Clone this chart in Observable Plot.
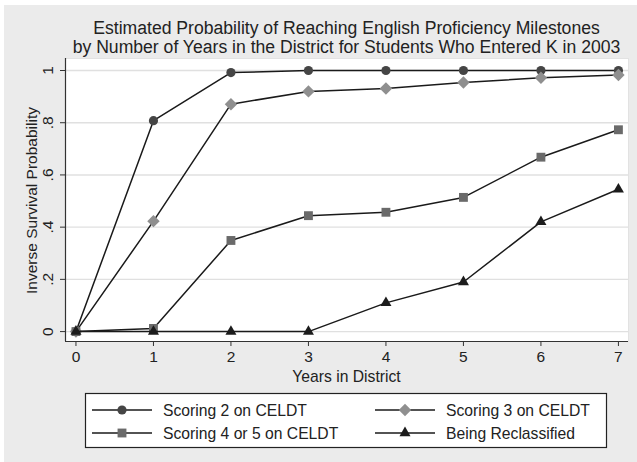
<!DOCTYPE html>
<html>
<head>
<meta charset="utf-8">
<script src="https://cdn.jsdelivr.net/npm/d3@7"></script>
<script src="https://cdn.jsdelivr.net/npm/@observablehq/plot@0.6"></script>
<style>
  html, body { margin: 0; padding: 0; background: #ffffff; }
  #chart svg { display: block; font-family: "Liberation Sans", Arial, Helvetica, sans-serif; }
</style>
</head>
<body>
<div id="chart"></div>
<script>
// ---- data ----
const years = [0, 1, 2, 3, 4, 5, 6, 7];
const seriesNames = ["Scoring 2 on CELDT", "Scoring 3 on CELDT", "Scoring 4 or 5 on CELDT", "Being Reclassified"];
const score2 = [0, 0.808, 0.992, 1, 1, 1, 1, 1];
const score3 = [0, 0.423, 0.871, 0.92, 0.931, 0.954, 0.972, 0.983];
const score45 = [0, 0.012, 0.349, 0.444, 0.457, 0.514, 0.668, 0.773];
const reclass = [0, 0, 0, 0, 0.11, 0.19, 0.42, 0.545];
const yTicks = [0, 0.2, 0.4, 0.6, 0.8, 1];
const yTickLabels = ["0", ".2", ".4", ".6", ".8", "1"];
const titleLines = [
  "Estimated Probability of Reaching English Proficiency Milestones",
  "by Number of Years in the District for Students Who Entered K in 2003"
];
const xLabel = "Years in District";
const yLabel = "Inverse Survival Probability";

// ---- styles ----
const styles = [
  {symbol: "circle", fill: "#454545", r: 4.6},
  {symbol: "diamond2", fill: "#8f8f8f", r: 5.6},
  {symbol: "square", fill: "#6a6a6a", r: 5.0},
  {symbol: "triangle", fill: "#1c1c1c", r: 4.1}
];
const allValues = [score2, score3, score45, reclass];
const rows = allValues.map((vals, i) => years.map((x, j) => ({x, y: vals[j], s: seriesNames[i]})));

const W = 637, H = 462;
const mL = 65, mR = 9, mT = 58, mB = 121;
const xDomain = [-0.135, 7.13];
const yDomain = [-0.038, 1.046];
const lineColor = "#1a1a1a";

const marks = [
  Plot.frame({fill: "white", stroke: "#e2e2e2"}),
  Plot.gridY(yTicks, {stroke: "#e0e0e0", strokeOpacity: 1, strokeWidth: 1.4}),
  Plot.ruleX([xDomain[0]], {stroke: "#333", strokeWidth: 1.2}),
  Plot.ruleY([yDomain[0]], {stroke: "#333", strokeWidth: 1.2}),
  Plot.axisY(yTicks, {tickSize: 5, tickFormat: () => "", stroke: "#333", label: null}),
  Plot.text(yTicks, {y: d => d, text: (d, i) => yTickLabels[i], frameAnchor: "left", dx: -17, rotate: -90, textAnchor: "middle", lineAnchor: "middle", fontSize: 15.5, fill: "#222"}),
  Plot.axisX(years, {tickSize: 5, tickPadding: 4, fontSize: 15.5, stroke: "#333", fill: "#222", label: null, tickFormat: d => String(d)})
];
rows.forEach((data, i) => {
  marks.push(Plot.line(data, {x: "x", y: "y", stroke: lineColor, strokeWidth: 1.5}));
  marks.push(Plot.dot(data, {x: "x", y: "y", symbol: () => styles[i].symbol, r: styles[i].r, fill: styles[i].fill, stroke: "none"}));
});

const chart = Plot.plot({
  width: W, height: H,
  marginLeft: mL, marginRight: mR, marginTop: mT, marginBottom: mB,
  style: {background: "transparent", fontFamily: "'Liberation Sans', Arial, sans-serif", fontSize: "15px", color: "#222"},
  x: {domain: xDomain, axis: null},
  y: {domain: yDomain, axis: null},
  symbol: {type: "identity"},
  marks
});
document.getElementById("chart").appendChild(chart);

// ---- background, titles & legend ----
const svg = d3.select(chart);
svg.insert("rect", ":first-child").attr("x", 4).attr("y", 5).attr("width", W).attr("height", H).attr("fill", "#ebebeb");
const cx = (mL + (W - mR)) / 2;
const tg = svg.append("g").attr("fill", "#222").attr("font-size", 17.6).attr("text-anchor", "middle");
titleLines.forEach((t, i) => tg.append("text").attr("x", cx).attr("y", 34 + i * 18.5).text(t));

svg.append("text").attr("x", cx).attr("y", 382).attr("text-anchor", "middle").attr("font-size", 15.7).attr("fill", "#222").text(xLabel);
svg.append("text").attr("transform", `translate(32,${(70 + 331) / 2}) rotate(-90)`).attr("dy", "0.35em")
  .attr("text-anchor", "middle").attr("font-size", 15.5).attr("fill", "#222").text(yLabel);

const lg = svg.append("g");
lg.append("rect").attr("x", 85.5).attr("y", 393.5).attr("width", 521).attr("height", 54)
  .attr("fill", "white").attr("stroke", "#222").attr("stroke-width", 1.2);
const symMap = {circle: d3.symbolCircle, diamond2: d3.symbolDiamond2, square: d3.symbolSquare, triangle: d3.symbolTriangle};
const cols = [92, 375];
const rowsY = [410, 433];
seriesNames.forEach((name, i) => {
  const col = cols[i % 2], ry = rowsY[Math.floor(i / 2)];
  lg.append("line").attr("x1", col).attr("x2", col + 60).attr("y1", ry).attr("y2", ry).attr("stroke", lineColor).attr("stroke-width", 1.5);
  lg.append("path").attr("d", d3.symbol(symMap[styles[i].symbol], Math.PI * styles[i].r ** 2)())
    .attr("transform", `translate(${col + 30},${ry})`).attr("fill", styles[i].fill);
  lg.append("text").attr("x", col + 71).attr("y", ry).attr("dy", "0.36em").attr("text-anchor", "start")
    .attr("font-size", 15.7).attr("fill", "#222").text(name);
});
</script>
</body>
</html>
